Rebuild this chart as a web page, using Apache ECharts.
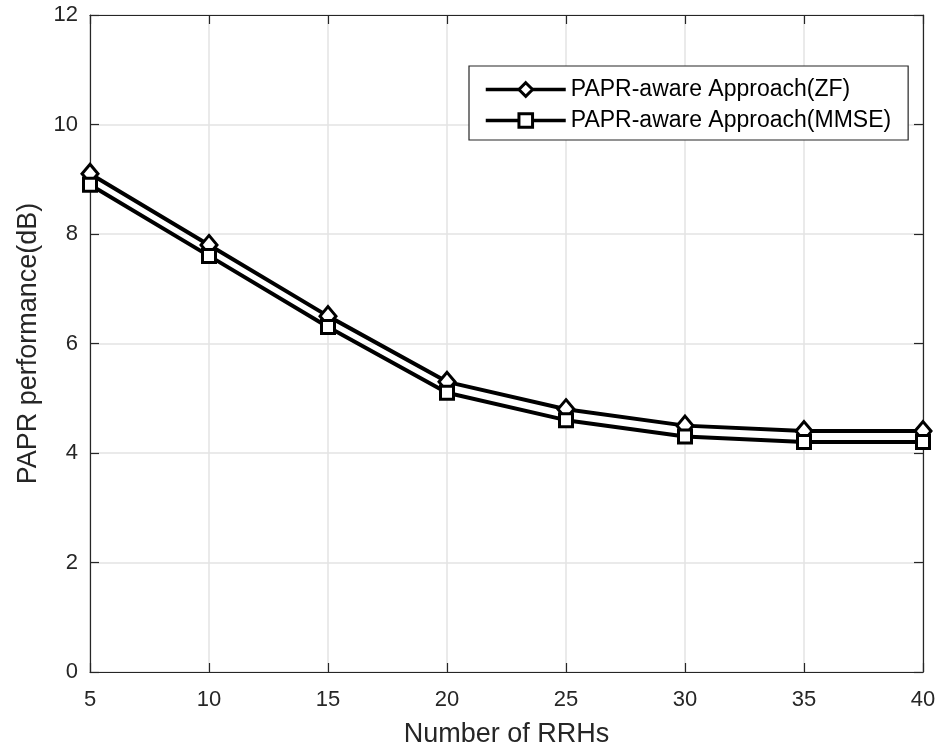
<!DOCTYPE html>
<html>
<head>
<meta charset="utf-8">
<script src="https://cdn.jsdelivr.net/npm/echarts@6/dist/echarts.min.js"></script>
<style>
  html, body { margin: 0; padding: 0; background: #fff; }
  #chart { width: 941px; height: 753px; }
</style>
</head>
<body>
<div id="chart"></div>
<script>
// Number of RRHs on the x axis
const rrhCounts = [5, 10, 15, 20, 25, 30, 35, 40];
// PAPR (dB) for each precoder
const paprZF   = [9.1, 7.8, 6.5, 5.3, 4.8, 4.5, 4.4, 4.4];
const paprMMSE = [8.9, 7.6, 6.3, 5.1, 4.6, 4.3, 4.2, 4.2];
const seriesNames = ['PAPR-aware Approach(ZF)', 'PAPR-aware Approach(MMSE)'];

const FONT = '"Liberation Sans", Arial, sans-serif';
const AXIS_COLOR = '#262626';
const GRID_COLOR = '#e3e3e3';

const chart = echarts.init(document.getElementById('chart'), null, { renderer: 'canvas' });

function pairs(xs, ys) { return xs.map((x, i) => [x, ys[i]]); }

const baseAxis = {
  axisLine: { show: true, onZero: false, lineStyle: { color: AXIS_COLOR, width: 1.2 } },
  axisTick: { show: true, inside: true, length: 9, lineStyle: { color: AXIS_COLOR, width: 1.2 } },
  splitLine: { show: false },
  axisLabel: { show: false }
};

const option = {
  backgroundColor: '#ffffff',
  animation: false,
  grid: { left: 90, right: 18, top: 15, bottom: 80, containLabel: false },
  legend: {
    orient: 'vertical',
    left: 469,
    top: 66,
    data: seriesNames,
    itemWidth: 80,
    itemHeight: 17,
    itemGap: 8,
    padding: [12, 17, 8, 15],
    borderColor: AXIS_COLOR,
    borderWidth: 1.2,
    backgroundColor: '#ffffff',
    lineStyle: { width: 3.5, color: '#000' },
    itemStyle: { borderWidth: 3, borderColor: '#000', color: '#fff' },
    textStyle: { fontFamily: FONT, fontSize: 23, color: '#000' }
  },
  xAxis: [
    Object.assign({}, baseAxis, {
      type: 'value', position: 'bottom',
      min: 5, max: 40, interval: 5,
      name: 'Number of RRHs', nameLocation: 'middle', nameGap: 49,
      nameTextStyle: { fontFamily: FONT, fontSize: 27, color: '#262626' },
      axisLabel: { show: true, margin: 17, fontFamily: FONT, fontSize: 22, color: '#262626' },
      splitLine: { show: true, lineStyle: { color: GRID_COLOR, width: 1.5 } }
    }),
    Object.assign({}, baseAxis, {
      type: 'value', position: 'top', min: 5, max: 40, interval: 5
    })
  ],
  yAxis: [
    Object.assign({}, baseAxis, {
      type: 'value', position: 'left',
      min: 0, max: 12, interval: 2,
      name: 'PAPR performance(dB)', nameLocation: 'middle', nameGap: 48,
      nameTextStyle: { fontFamily: FONT, fontSize: 27, color: '#262626' },
      axisLabel: { show: true, margin: 12, fontFamily: FONT, fontSize: 22, color: '#262626' },
      splitLine: { show: true, lineStyle: { color: GRID_COLOR, width: 1.5 } }
    }),
    Object.assign({}, baseAxis, {
      type: 'value', position: 'right', min: 0, max: 12, interval: 2
    })
  ],
  series: [
    {
      name: seriesNames[0],
      type: 'line',
      data: pairs(rrhCounts, paprZF),
      symbol: 'diamond',
      symbolSize: [16, 19],
      lineStyle: { color: '#000', width: 4 },
      itemStyle: { color: '#ffffff', borderColor: '#000', borderWidth: 3 },
      z: 3
    },
    {
      name: seriesNames[1],
      type: 'line',
      data: pairs(rrhCounts, paprMMSE),
      symbol: 'rect',
      symbolSize: 13,
      lineStyle: { color: '#000', width: 4 },
      itemStyle: { color: '#ffffff', borderColor: '#000', borderWidth: 3 },
      z: 3
    }
  ]
};

chart.setOption(option);
</script>
</body>
</html>
